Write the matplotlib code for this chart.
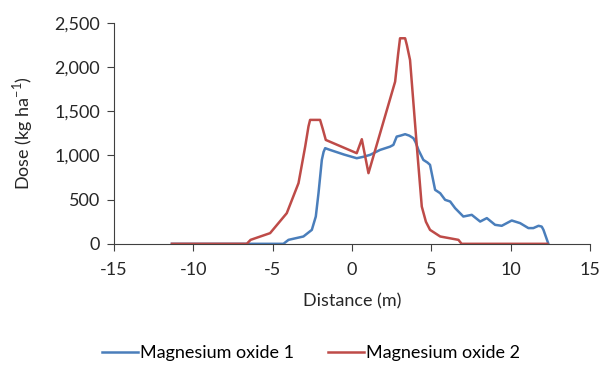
import matplotlib.pyplot as plt
from matplotlib.ticker import FuncFormatter

# distance (m) and dose (kg/ha)
dist1 = [-11.36, -6.7, -4.33, -4.01, -3.07, -2.54, -2.29, -2.12, -1.91, -1.80, -1.70, -1.39,
         -0.5, 0.29, 0.7, 1.13, 1.76, 2.39, 2.60, 2.81, 3.05, 3.34, 3.6, 3.86, 4.0, 4.18,
         4.49, 4.75, 4.91, 5.23, 5.55, 5.86, 6.18, 6.49, 7.01, 7.54, 8.07, 8.49, 9.01,
         9.43, 10.06, 10.59, 11.11, 11.42, 11.75, 11.95, 12.06, 12.37]
dose1 = [0, 0, 0, 45, 83, 158, 309, 573, 950, 1040, 1083, 1063,
         1010, 969, 985, 1007, 1063, 1100, 1120, 1214, 1225, 1241, 1225, 1196, 1150, 1063,
         950, 920, 894, 611, 573, 498, 479, 404, 309, 328, 252, 291, 215,
         204, 264, 234, 178, 178, 204, 195, 158, 0]

dist2 = [-11.36, -6.64, -6.4, -5.17, -4.12, -3.38, -2.96, -2.75, -2.65, -2.02, -1.85, -1.66,
         0.29, 0.61, 1.03, 2.71, 2.9, 3.02, 3.34, 3.45, 3.65, 4.08, 4.39, 4.65, 4.91, 5.55,
         6.7, 6.9, 12.3]
dose2 = [0, 0, 45, 121, 347, 687, 1100, 1330, 1403, 1403, 1300, 1176,
         1026, 1184, 800, 1836, 2150, 2327, 2327, 2250, 2081, 1100, 422, 250, 158, 83,
         45, 0, 0]

plt.rcParams['font.family'] = 'Lato'
plt.rcParams['axes.unicode_minus'] = False
plt.rcParams['mathtext.fontset'] = 'custom'
plt.rcParams['mathtext.rm'] = 'Lato'
fig, ax = plt.subplots(figsize=(6.04, 3.65), dpi=100)
fig.subplots_adjust(left=0.189, right=0.977, top=0.937, bottom=0.332)

ax.plot(dist1, dose1, color='#4A7EBB', lw=1.8, label='Magnesium oxide 1')
ax.plot(dist2, dose2, color='#BE4B48', lw=1.8, label='Magnesium oxide 2')

ax.set_xlim(-15, 15)
ax.set_ylim(0, 2500)
ax.set_xticks(range(-15, 16, 5))
ax.set_yticks(range(0, 2501, 500))
ax.yaxis.set_major_formatter(FuncFormatter(lambda v, p: f'{int(v):,}'))
for s in ['top', 'right']:
    ax.spines[s].set_visible(False)
ax.spines['left'].set_color('#404040')
ax.spines['bottom'].set_color('#404040')
ax.tick_params(direction='out', length=5, color='#404040', labelsize=13, labelcolor='#262626')
ax.tick_params(axis='x', pad=8)
ax.tick_params(axis='y', pad=5)
ax.set_xlabel('Distance (m)', fontsize=13, color='#262626', labelpad=11)
ax.set_ylabel('Dose (kg ha$^{\\mathrm{-1}}$)', fontsize=13, color='#262626', labelpad=14)

ax.legend(loc='center', bbox_to_anchor=(0.413, -0.495), ncol=2, frameon=False,
          fontsize=13, handlelength=2.0, handletextpad=0.1, columnspacing=1.9)

plt.savefig('out.png', dpi=100)
